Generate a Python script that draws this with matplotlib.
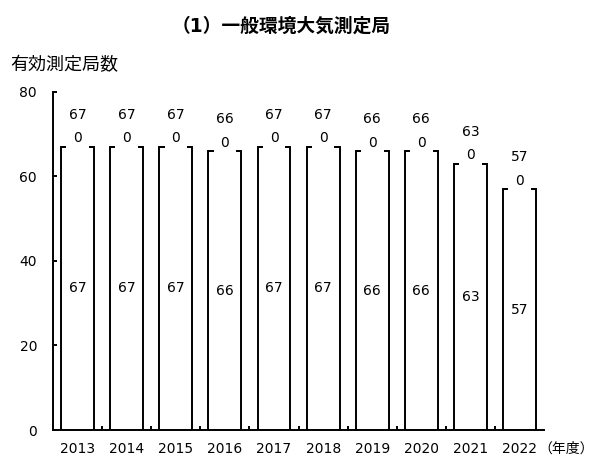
import matplotlib
matplotlib.use('Agg')
import matplotlib.pyplot as plt
import numpy as np

# ------------------------------------------------------------------ DATA
years = ['2013', '2014', '2015', '2016', '2017', '2018', '2019', '2020', '2021', '2022']
valid = [67, 67, 67, 66, 67, 67, 66, 66, 63, 57]
other = [0, 0, 0, 0, 0, 0, 0, 0, 0, 0]
yticks = [0, 20, 40, 60, 80]

title = '（1）一般環境大気測定局'
ylabel = '有効測定局数'
xunit = '（年度）'

plt.rcParams['font.family'] = ['DejaVu Sans', 'Noto Sans CJK JP']

# ------------------------------------------------------------------ FIGURE
fig = plt.figure(figsize=(5.96, 4.57), dpi=100)
ax = fig.add_axes([0.089, 0.059, 0.824, 0.740])

x = np.arange(len(years))
total = np.array(valid) + np.array(other)
lw = 1.4

ax.bar(x, valid, width=0.67, color='white', edgecolor='black', linewidth=lw, zorder=1)
ax.bar(x, other, width=0.67, bottom=valid, color='white', edgecolor='black',
       linewidth=lw, zorder=1)

for xi, v, o, t in zip(x, valid, other, total):
    ax.text(xi, v / 2, str(v), ha='center', va='center', fontsize=10, zorder=3)
    # label of the zero segment sits on the bar top with a white box
    ax.annotate(str(o), (xi, v + o), xytext=(0, 6),
                textcoords='offset points', ha='center', va='center',
                fontsize=10, zorder=3,
                bbox=dict(boxstyle='square,pad=0.5', fc='white', ec='none'))
    ax.annotate(str(t), (xi, t), xytext=(0, 23), textcoords='offset points',
                ha='center', va='center', fontsize=10, zorder=4)

# ------------------------------------------------------------------ AXES
ax.set_xlim(-0.5, len(years) - 0.5)
ax.set_ylim(0, 80)
ax.set_yticks(yticks)
ax.tick_params(axis='y', direction='in', length=3, width=lw, pad=11.5, labelsize=10)

ax.set_xticks(x[:-1] + 0.5)
ax.set_xticks(x, minor=True)
ax.set_xticklabels([], minor=False)
ax.set_xticklabels(years, minor=True)
ax.tick_params(axis='x', which='major', direction='in', length=3, width=lw)
ax.tick_params(axis='x', which='minor', length=0, pad=8.5, labelsize=10)

for s in ['top', 'right']:
    ax.spines[s].set_visible(False)
for s in ['left', 'bottom']:
    ax.spines[s].set_linewidth(lw)

fig.text(0.472, 0.943, title, ha='center', va='center', fontsize=13.5, fontweight='bold')
fig.text(0.017, 0.858, ylabel, ha='left', va='center', fontsize=13)
fig.text(0.997, 0.018, xunit, ha='right', va='center', fontsize=10)

fig.savefig('out.png', dpi=100)
